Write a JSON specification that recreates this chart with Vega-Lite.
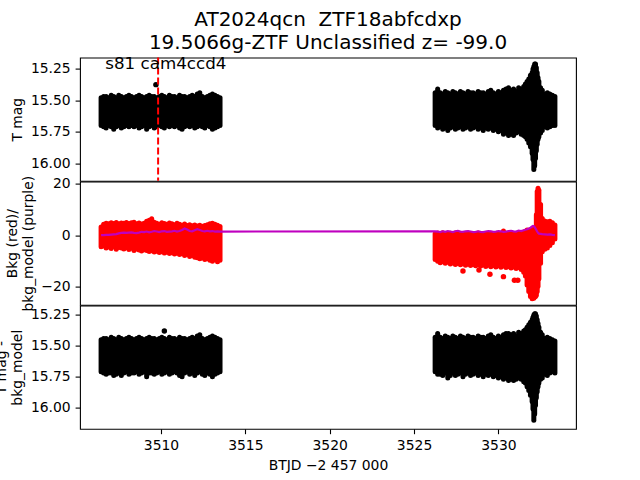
{
"$schema": "https://vega.github.io/schema/vega-lite/v6.json",
"autosize": {"type": "none"},
"padding": {"left": 80, "top": 57.6, "right": 560, "bottom": 422.4},
"bounds": "flush",
"spacing": 0,
"title": {"text": ["AT2024qcn\u00a0 ZTF18abfcdxp", "19.5066g-ZTF Unclassified z= -99.0"], "fontSize": 20, "fontWeight": "normal", "font": "DejaVu Sans", "color": "black", "anchor": "middle", "frame": "group", "lineHeight": 23, "offset": 2},
"config": {
  "font": "DejaVu Sans",
  "view": {"stroke": "black", "strokeWidth": 1.1},
  "axis": {"domain": false, "grid": false, "tickColor": "black", "tickSize": 4.9, "tickWidth": 1.1, "labelColor": "black", "labelFontSize": 13.9, "labelFont": "DejaVu Sans", "labelPadding": 4.9, "titleFont": "DejaVu Sans", "titleFontSize": 13.9, "titleFontWeight": "normal", "titleColor": "black", "titlePadding": 5.6}
},
"datasets": {
"lc": [
{"t":3506.45,"a":15.48,"b":15.70,"c":15.45,"d":15.71,"lo":-4.5,"hi":3.2,"m":0.0},
{"t":3506.60,"a":15.47,"b":15.71,"c":15.44,"d":15.72,"lo":-4.2,"hi":4.2,"m":0.0},
{"t":3506.75,"a":15.47,"b":15.72,"c":15.44,"d":15.73,"lo":-5.0,"hi":4.6,"m":0.1},
{"t":3506.90,"a":15.48,"b":15.70,"c":15.45,"d":15.72,"lo":-4.6,"hi":4.4,"m":0.1},
{"t":3507.05,"a":15.46,"b":15.71,"c":15.43,"d":15.72,"lo":-5.2,"hi":4.8,"m":0.2},
{"t":3507.20,"a":15.47,"b":15.73,"c":15.44,"d":15.74,"lo":-4.4,"hi":4.5,"m":0.3},
{"t":3507.35,"a":15.48,"b":15.71,"c":15.45,"d":15.73,"lo":-5.5,"hi":4.9,"m":0.4},
{"t":3507.50,"a":15.46,"b":15.70,"c":15.43,"d":15.72,"lo":-4.8,"hi":4.4,"m":0.7},
{"t":3507.65,"a":15.47,"b":15.72,"c":15.44,"d":15.74,"lo":-5.0,"hi":4.7,"m":0.9},
{"t":3507.80,"a":15.48,"b":15.71,"c":15.45,"d":15.72,"lo":-5.4,"hi":4.6,"m":1.0},
{"t":3507.95,"a":15.47,"b":15.70,"c":15.44,"d":15.71,"lo":-4.9,"hi":4.9,"m":0.9},
{"t":3508.10,"a":15.46,"b":15.71,"c":15.43,"d":15.73,"lo":-5.6,"hi":4.5,"m":1.0},
{"t":3508.25,"a":15.47,"b":15.70,"c":15.44,"d":15.72,"lo":-5.1,"hi":4.8,"m":1.1},
{"t":3508.40,"a":15.48,"b":15.71,"c":15.45,"d":15.72,"lo":-6.0,"hi":5.0,"m":0.9},
{"t":3508.55,"a":15.47,"b":15.70,"c":15.44,"d":15.71,"lo":-5.4,"hi":4.4,"m":0.8},
{"t":3508.70,"a":15.46,"b":15.72,"c":15.43,"d":15.73,"lo":-5.8,"hi":4.7,"m":1.0},
{"t":3508.85,"a":15.47,"b":15.71,"c":15.44,"d":15.72,"lo":-6.2,"hi":4.3,"m":1.3},
{"t":3509.00,"a":15.48,"b":15.70,"c":15.45,"d":15.71,"lo":-5.7,"hi":4.6,"m":1.2},
{"t":3509.15,"a":15.47,"b":15.73,"c":15.44,"d":15.75,"lo":-6.0,"hi":5.4,"m":1.4},
{"t":3509.30,"a":15.46,"b":15.71,"c":15.43,"d":15.72,"lo":-6.4,"hi":5.8,"m":1.1},
{"t":3509.45,"a":15.47,"b":15.70,"c":15.44,"d":15.72,"lo":-6.1,"hi":6.4,"m":1.3},
{"t":3509.60,"a":15.47,"b":15.72,"c":15.44,"d":15.73,"lo":-6.6,"hi":5.0,"m":1.6},
{"t":3509.75,"a":15.48,"b":15.71,"c":15.45,"d":15.72,"lo":-6.3,"hi":4.6,"m":1.4},
{"t":3509.90,"a":15.47,"b":15.70,"c":15.44,"d":15.71,"lo":-6.8,"hi":4.2,"m":1.2},
{"t":3510.05,"a":15.46,"b":15.71,"c":15.43,"d":15.73,"lo":-6.5,"hi":4.8,"m":1.5},
{"t":3510.20,"a":15.47,"b":15.72,"c":15.44,"d":15.72,"lo":-7.0,"hi":4.5,"m":1.6},
{"t":3510.35,"a":15.48,"b":15.70,"c":15.45,"d":15.71,"lo":-6.7,"hi":4.2,"m":1.3},
{"t":3510.50,"a":15.46,"b":15.71,"c":15.43,"d":15.73,"lo":-7.2,"hi":4.7,"m":1.4},
{"t":3510.65,"a":15.47,"b":15.70,"c":15.44,"d":15.72,"lo":-6.9,"hi":4.4,"m":1.5},
{"t":3510.80,"a":15.47,"b":15.71,"c":15.44,"d":15.71,"lo":-7.4,"hi":4.1,"m":1.7},
{"t":3510.95,"a":15.48,"b":15.70,"c":15.45,"d":15.72,"lo":-7.1,"hi":4.6,"m":1.4},
{"t":3511.10,"a":15.46,"b":15.72,"c":15.43,"d":15.74,"lo":-7.6,"hi":4.2,"m":1.6},
{"t":3511.25,"a":15.47,"b":15.73,"c":15.44,"d":15.75,"lo":-7.3,"hi":3.9,"m":2.0},
{"t":3511.40,"a":15.47,"b":15.71,"c":15.44,"d":15.72,"lo":-8.0,"hi":4.3,"m":2.6},
{"t":3511.55,"a":15.48,"b":15.70,"c":15.45,"d":15.71,"lo":-7.6,"hi":3.8,"m":2.2},
{"t":3511.70,"a":15.47,"b":15.71,"c":15.44,"d":15.73,"lo":-8.3,"hi":4.1,"m":1.6},
{"t":3511.85,"a":15.46,"b":15.70,"c":15.43,"d":15.72,"lo":-8.0,"hi":3.7,"m":1.5},
{"t":3512.00,"a":15.47,"b":15.72,"c":15.44,"d":15.74,"lo":-8.6,"hi":4.0,"m":1.9},
{"t":3512.15,"a":15.45,"b":15.71,"c":15.42,"d":15.72,"lo":-8.8,"hi":3.6,"m":2.3},
{"t":3512.30,"a":15.44,"b":15.70,"c":15.41,"d":15.71,"lo":-9.2,"hi":3.9,"m":2.0},
{"t":3512.45,"a":15.47,"b":15.71,"c":15.44,"d":15.73,"lo":-8.9,"hi":3.5,"m":1.6},
{"t":3512.60,"a":15.48,"b":15.72,"c":15.45,"d":15.74,"lo":-9.5,"hi":3.8,"m":1.5},
{"t":3512.75,"a":15.47,"b":15.70,"c":15.44,"d":15.72,"lo":-9.2,"hi":4.1,"m":1.7},
{"t":3512.90,"a":15.46,"b":15.71,"c":15.43,"d":15.73,"lo":-9.8,"hi":4.4,"m":1.5},
{"t":3513.05,"a":15.45,"b":15.73,"c":15.42,"d":15.75,"lo":-10.2,"hi":4.6,"m":1.6},
{"t":3513.20,"a":15.46,"b":15.72,"c":15.43,"d":15.73,"lo":-9.6,"hi":4.2,"m":1.4},
{"t":3513.35,"a":15.47,"b":15.71,"c":15.44,"d":15.72,"lo":-10.4,"hi":3.9,"m":1.5},
{"t":3513.50,"a":15.48,"b":15.70,"c":15.45,"d":15.71,"lo":-9.8,"hi":3.4,"m":1.4},
{"t":3526.25,"a":15.44,"b":15.70,"c":15.43,"d":15.71,"lo":-9.5,"hi":0.5,"m":1.5},
{"t":3526.40,"a":15.41,"b":15.72,"c":15.40,"d":15.73,"lo":-10.2,"hi":0.8,"m":1.4},
{"t":3526.55,"a":15.44,"b":15.71,"c":15.43,"d":15.73,"lo":-10.8,"hi":0.4,"m":1.2},
{"t":3526.70,"a":15.45,"b":15.73,"c":15.44,"d":15.74,"lo":-10.4,"hi":0.9,"m":1.5},
{"t":3526.85,"a":15.43,"b":15.72,"c":15.42,"d":15.72,"lo":-11.0,"hi":0.6,"m":1.3},
{"t":3527.00,"a":15.44,"b":15.74,"c":15.43,"d":15.76,"lo":-10.6,"hi":0.3,"m":1.6},
{"t":3527.15,"a":15.45,"b":15.72,"c":15.44,"d":15.74,"lo":-11.3,"hi":0.7,"m":1.4},
{"t":3527.30,"a":15.43,"b":15.71,"c":15.42,"d":15.72,"lo":-10.9,"hi":0.5,"m":1.2},
{"t":3527.45,"a":15.44,"b":15.73,"c":15.43,"d":15.74,"lo":-11.5,"hi":0.8,"m":1.5},
{"t":3527.60,"a":15.45,"b":15.72,"c":15.44,"d":15.73,"lo":-11.1,"hi":0.4,"m":1.7},
{"t":3527.75,"a":15.43,"b":15.71,"c":15.42,"d":15.72,"lo":-11.6,"hi":0.2,"m":1.4},
{"t":3527.90,"a":15.44,"b":15.73,"c":15.43,"d":15.75,"lo":-11.2,"hi":0.6,"m":1.3},
{"t":3528.05,"a":15.45,"b":15.72,"c":15.44,"d":15.73,"lo":-11.8,"hi":0.5,"m":1.5},
{"t":3528.20,"a":15.43,"b":15.71,"c":15.42,"d":15.72,"lo":-11.4,"hi":0.7,"m":1.6},
{"t":3528.35,"a":15.44,"b":15.73,"c":15.43,"d":15.74,"lo":-11.9,"hi":0.3,"m":1.4},
{"t":3528.50,"a":15.44,"b":15.72,"c":15.43,"d":15.73,"lo":-11.5,"hi":0.6,"m":1.2},
{"t":3528.65,"a":15.45,"b":15.71,"c":15.44,"d":15.72,"lo":-12.0,"hi":0.4,"m":1.3},
{"t":3528.80,"a":15.43,"b":15.73,"c":15.42,"d":15.74,"lo":-11.6,"hi":0.8,"m":1.5},
{"t":3528.95,"a":15.44,"b":15.72,"c":15.43,"d":15.73,"lo":-12.1,"hi":0.5,"m":1.3},
{"t":3529.10,"a":15.44,"b":15.74,"c":15.43,"d":15.75,"lo":-11.7,"hi":0.3,"m":1.2},
{"t":3529.25,"a":15.45,"b":15.72,"c":15.44,"d":15.73,"lo":-12.2,"hi":0.6,"m":1.4},
{"t":3529.40,"a":15.43,"b":15.73,"c":15.42,"d":15.74,"lo":-11.8,"hi":0.4,"m":1.6},
{"t":3529.55,"a":15.42,"b":15.72,"c":15.41,"d":15.73,"lo":-12.3,"hi":0.7,"m":1.5},
{"t":3529.70,"a":15.44,"b":15.74,"c":15.43,"d":15.75,"lo":-11.9,"hi":0.5,"m":1.3},
{"t":3529.85,"a":15.45,"b":15.73,"c":15.44,"d":15.74,"lo":-12.4,"hi":0.3,"m":1.4},
{"t":3530.00,"a":15.43,"b":15.75,"c":15.42,"d":15.76,"lo":-12.0,"hi":0.6,"m":1.6},
{"t":3530.15,"a":15.44,"b":15.74,"c":15.43,"d":15.75,"lo":-12.5,"hi":0.4,"m":1.5},
{"t":3530.30,"a":15.42,"b":15.77,"c":15.41,"d":15.77,"lo":-12.1,"hi":1.6,"m":1.3},
{"t":3530.45,"a":15.41,"b":15.76,"c":15.40,"d":15.76,"lo":-12.6,"hi":0.5,"m":1.4},
{"t":3530.60,"a":15.40,"b":15.78,"c":15.40,"d":15.78,"lo":-12.3,"hi":0.3,"m":1.6},
{"t":3530.75,"a":15.42,"b":15.77,"c":15.41,"d":15.77,"lo":-12.8,"hi":0.7,"m":1.7},
{"t":3530.90,"a":15.41,"b":15.78,"c":15.40,"d":15.78,"lo":-12.4,"hi":0.5,"m":1.5},
{"t":3531.05,"a":15.43,"b":15.76,"c":15.42,"d":15.77,"lo":-13.0,"hi":0.4,"m":1.4},
{"t":3531.20,"a":15.40,"b":15.75,"c":15.39,"d":15.76,"lo":-12.6,"hi":0.8,"m":1.8},
{"t":3531.35,"a":15.41,"b":15.77,"c":15.40,"d":15.77,"lo":-13.4,"hi":0.6,"m":1.6},
{"t":3531.50,"a":15.39,"b":15.78,"c":15.38,"d":15.79,"lo":-14.5,"hi":1.0,"m":1.9},
{"t":3531.60,"a":15.37,"b":15.79,"c":15.37,"d":15.80,"lo":-16.0,"hi":1.5,"m":2.1},
{"t":3531.70,"a":15.35,"b":15.81,"c":15.35,"d":15.83,"lo":-19.5,"hi":2.0,"m":2.3},
{"t":3531.80,"a":15.33,"b":15.84,"c":15.33,"d":15.86,"lo":-22.0,"hi":1.2,"m":2.6},
{"t":3531.90,"a":15.30,"b":15.87,"c":15.31,"d":15.90,"lo":-24.0,"hi":1.6,"m":2.9},
{"t":3532.00,"a":15.28,"b":15.92,"c":15.29,"d":15.95,"lo":-24.8,"hi":2.2,"m":3.4},
{"t":3532.05,"a":15.25,"b":15.97,"c":15.27,"d":16.01,"lo":-24.5,"hi":1.8,"m":3.6},
{"t":3532.10,"a":15.23,"b":16.05,"c":15.25,"d":16.10,"lo":-24.6,"hi":1.0,"m":3.5},
{"t":3532.15,"a":15.21,"b":16.02,"c":15.24,"d":16.05,"lo":-24.2,"hi":1.5,"m":3.1},
{"t":3532.20,"a":15.21,"b":15.96,"c":15.24,"d":15.98,"lo":-24.0,"hi":3.0,"m":2.6},
{"t":3532.25,"a":15.24,"b":15.90,"c":15.26,"d":15.92,"lo":-23.5,"hi":8.0,"m":2.0},
{"t":3532.30,"a":15.28,"b":15.85,"c":15.29,"d":15.87,"lo":-22.0,"hi":17.0,"m":1.4},
{"t":3532.35,"a":15.32,"b":15.81,"c":15.32,"d":15.83,"lo":-20.0,"hi":18.3,"m":0.9},
{"t":3532.40,"a":15.35,"b":15.79,"c":15.35,"d":15.80,"lo":-17.0,"hi":17.5,"m":0.6},
{"t":3532.50,"a":15.40,"b":15.76,"c":15.39,"d":15.77,"lo":-11.0,"hi":12.0,"m":0.5},
{"t":3532.60,"a":15.42,"b":15.74,"c":15.41,"d":15.76,"lo":-6.5,"hi":6.5,"m":0.4},
{"t":3532.75,"a":15.45,"b":15.71,"c":15.44,"d":15.73,"lo":-5.5,"hi":5.5,"m":0.3},
{"t":3532.90,"a":15.44,"b":15.72,"c":15.43,"d":15.74,"lo":-5.0,"hi":5.2,"m":0.2},
{"t":3533.05,"a":15.45,"b":15.71,"c":15.44,"d":15.72,"lo":-4.0,"hi":5.4,"m":0.3},
{"t":3533.20,"a":15.46,"b":15.70,"c":15.45,"d":15.71,"lo":-3.0,"hi":4.8,"m":0.1},
{"t":3533.35,"a":15.47,"b":15.70,"c":15.46,"d":15.72,"lo":-1.5,"hi":4.0,"m":0.0}
],
"bko": [
{"t":3527.9,"v":-14.0},{"t":3528.85,"v":-13.6},{"t":3529.5,"v":-15.3},{"t":3530.3,"v":-16.2},{"t":3530.95,"v":-17.6},{"t":3531.15,"v":-17.6}
],
"mko": [{"t":3509.7,"v":15.375}],
"mko2": [{"t":3510.2,"v":15.38}],
"ann": [{"t":3509.83,"lt":3506.7,"lm":15.25,"label":"s81 cam4ccd4"}]
},
"vconcat": [
{
"width": 496, "height": 123.2,
"layer": [
{"data": {"name": "lc"}, "mark": {"type": "rule", "strokeWidth": 5, "strokeCap": "round", "color": "black", "clip": true},
 "encoding": {
  "x": {"field": "t", "type": "quantitative", "scale": {"domain": [3505.2, 3534.6], "nice": false, "zero": false}, "axis": null},
  "y": {"field": "a", "type": "quantitative", "scale": {"domain": [15.16, 16.14], "reverse": true, "zero": false, "nice": false}, "axis": {"values": [15.25, 15.5, 15.75, 16.0], "format": ".2f", "title": "T mag"}},
  "y2": {"field": "b"}}},
{"data": {"name": "mko"}, "mark": {"type": "circle", "size": 30, "color": "black", "opacity": 1},
 "encoding": {"x": {"field": "t", "type": "quantitative"}, "y": {"field": "v", "type": "quantitative"}}},
{"data": {"name": "ann"}, "mark": {"type": "rule", "color": "red", "strokeDash": [7, 3], "strokeWidth": 2},
 "encoding": {"x": {"field": "t", "type": "quantitative"}}},
{"data": {"name": "ann"}, "mark": {"type": "text", "align": "left", "baseline": "alphabetic", "fontSize": 16.7, "font": "DejaVu Sans", "color": "black"},
 "encoding": {"x": {"field": "lt", "type": "quantitative"}, "y": {"field": "lm", "type": "quantitative"}, "text": {"field": "label"}}}
]
},
{
"width": 496, "height": 123.2,
"layer": [
{"data": {"name": "lc"}, "mark": {"type": "rule", "strokeWidth": 5, "strokeCap": "round", "color": "#ff0000", "clip": true},
 "encoding": {
  "x": {"field": "t", "type": "quantitative", "scale": {"domain": [3505.2, 3534.6], "nice": false, "zero": false}, "axis": null},
  "y": {"field": "lo", "type": "quantitative", "scale": {"domain": [-27.2, 20.9], "zero": false, "nice": false}, "axis": {"values": [-20, 0, 20], "format": "d", "title": ["Bkg (red)/", "bkg_model (purple)"]}},
  "y2": {"field": "hi"}}},
{"data": {"name": "bko"}, "mark": {"type": "circle", "size": 30, "color": "#ff0000", "opacity": 1},
 "encoding": {"x": {"field": "t", "type": "quantitative"}, "y": {"field": "v", "type": "quantitative"}}},
{"data": {"name": "lc"}, "mark": {"type": "line", "color": "#bf00bf", "strokeWidth": 2.2, "clip": true},
 "encoding": {"x": {"field": "t", "type": "quantitative"}, "y": {"field": "m", "type": "quantitative"}}}
]
},
{
"width": 496, "height": 123.2,
"layer": [
{"data": {"name": "lc"}, "mark": {"type": "rule", "strokeWidth": 5, "strokeCap": "round", "color": "black", "clip": true},
 "encoding": {
  "x": {"field": "t", "type": "quantitative", "scale": {"domain": [3505.2, 3534.6], "nice": false, "zero": false}, "axis": {"values": [3510, 3515, 3520, 3525, 3530], "format": "d", "title": "BTJD −2 457 000"}},
  "y": {"field": "c", "type": "quantitative", "scale": {"domain": [15.175, 16.17], "reverse": true, "zero": false, "nice": false}, "axis": {"values": [15.25, 15.5, 15.75, 16.0], "format": ".2f", "title": ["T mag -", "bkg_model"]}},
  "y2": {"field": "d"}}},
{"data": {"name": "mko2"}, "mark": {"type": "circle", "size": 30, "color": "black", "opacity": 1},
 "encoding": {"x": {"field": "t", "type": "quantitative"}, "y": {"field": "v", "type": "quantitative"}}}
]
}
]
}
